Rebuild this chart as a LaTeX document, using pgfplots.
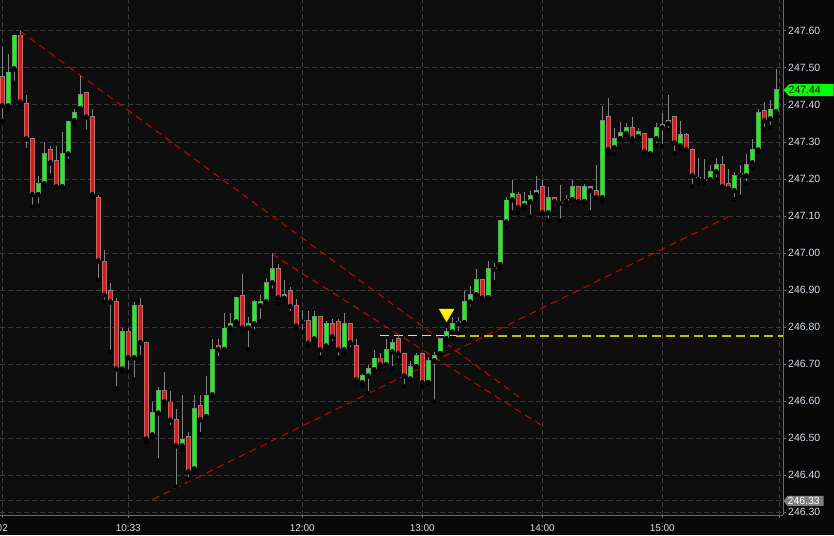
\documentclass[border=0pt]{standalone}
\usepackage{pgfplots}
\pgfplotsset{compat=1.18}
\usepackage{pgfplotstable}
\usepackage{fontspec}
\setmainfont{Liberation Sans}
\definecolor{outerbg}{RGB}{8,8,8}
\definecolor{plotbg}{RGB}{14,14,14}
\definecolor{gridc}{RGB}{58,58,58}
\definecolor{axisc}{RGB}{105,105,105}
\definecolor{labelc}{RGB}{210,216,228}
\definecolor{wickc}{RGB}{130,130,130}
\definecolor{upc}{RGB}{10,255,10}
\definecolor{dnc}{RGB}{255,10,10}
\definecolor{trendc}{RGB}{210,0,0}
\definecolor{ylw}{RGB}{240,240,0}
\definecolor{ylwdark}{RGB}{200,190,0}
\definecolor{lowc}{RGB}{120,120,120}
\definecolor{tagg}{RGB}{0,255,0}
\definecolor{taggray}{RGB}{125,125,125}

\pgfplotstableread{
i o h l c
0 247.476 247.558 247.357 247.400
1 247.399 247.538 247.389 247.488
2 247.499 247.589 247.459 247.588
3 247.588 247.600 247.399 247.410
4 247.402 247.427 247.278 247.310
5 247.307 247.312 247.125 247.159
6 247.159 247.208 247.128 247.186
7 247.188 247.297 247.188 247.267
8 247.278 247.290 247.209 247.245
9 247.248 247.290 247.180 247.180
10 247.180 247.328 247.180 247.267
11 247.269 247.357 247.249 247.353
12 247.359 247.389 247.349 247.378
13 247.391 247.479 247.391 247.426
14 247.432 247.432 247.328 247.369
15 247.367 247.389 247.151 247.159
16 247.148 247.156 246.927 246.980
17 246.977 247.007 246.868 246.888
18 246.897 246.918 246.733 246.869
19 246.867 246.878 246.634 246.688
20 246.688 246.796 246.679 246.786
21 246.786 246.796 246.679 246.718
22 246.718 246.867 246.658 246.856
23 246.856 246.878 246.718 246.759
24 246.756 246.756 246.488 246.499
25 246.510 246.597 246.499 246.567
26 246.569 246.637 246.439 246.626
27 246.626 246.678 246.599 246.599
28 246.596 246.626 246.529 246.550
29 246.548 246.578 246.368 246.480
30 246.480 246.615 246.468 246.496
31 246.502 246.515 246.388 246.410
32 246.418 246.615 246.405 246.578
33 246.586 246.615 246.510 246.551
34 246.559 246.667 246.559 246.613
35 246.618 246.767 246.610 246.737
36 246.748 246.767 246.715 246.740
37 246.740 246.837 246.740 246.796
38 246.799 246.837 246.788 246.807
39 246.815 246.878 246.807 246.878
40 246.883 246.942 246.788 246.799
41 246.799 246.826 246.740 246.807
42 246.810 246.872 246.788 246.867
43 246.859 246.886 246.815 246.867
44 246.869 246.932 246.869 246.918
45 246.921 246.999 246.898 246.956
46 246.956 246.969 246.864 246.880
47 246.879 246.927 246.868 246.886
48 246.897 246.907 246.837 246.857
49 246.856 246.875 246.799 246.804
50 246.817 246.846 246.787 246.817
51 246.816 246.843 246.749 246.758
52 246.769 246.843 246.756 246.826
53 246.826 246.826 246.717 246.740
54 246.750 246.817 246.740 246.807
55 246.807 246.821 246.756 246.775
56 246.813 246.821 246.717 246.740
57 246.740 246.837 246.729 246.807
58 246.807 246.807 246.740 246.759
59 246.748 246.767 246.650 246.659
60 246.651 246.672 246.641 246.667
61 246.669 246.697 246.621 246.686
62 246.686 246.738 246.679 246.715
63 246.715 246.729 246.686 246.699
64 246.699 246.767 246.699 246.737
65 246.734 246.767 246.688 246.756
66 246.767 246.778 246.711 246.729
67 246.726 246.726 246.639 246.669
68 246.661 246.709 246.659 246.691
69 246.694 246.729 246.694 246.721
70 246.726 246.729 246.639 246.651
71 246.651 246.720 246.651 246.707
72 246.710 246.732 246.598 246.721
73 246.729 246.767 246.729 246.767
74 246.770 246.796 246.756 246.786
75 246.788 246.826 246.770 246.807
76 246.810 246.827 246.783 246.815
77 246.813 246.896 246.813 246.867
78 246.869 246.910 246.850 246.886
79 246.888 246.956 246.888 246.926
80 246.926 246.926 246.869 246.880
81 246.880 246.978 246.880 246.956
82 246.958 246.973 246.920 246.958
83 246.970 247.086 246.958 247.086
84 247.085 247.151 247.069 247.142
85 247.145 247.197 247.109 247.161
86 247.156 247.165 247.109 247.124
87 247.129 247.164 247.118 247.137
88 247.140 247.168 247.098 247.153
89 247.159 247.207 247.151 247.167
90 247.178 247.197 247.107 247.110
91 247.110 247.178 247.087 247.148
92 247.148 247.148 247.124 247.140
93 247.136 247.183 247.087 247.136
94 247.143 247.156 247.129 247.143
95 247.145 247.197 247.145 247.178
96 247.178 247.178 247.140 247.140
97 247.140 247.186 247.140 247.178
98 247.170 247.178 247.109 247.178
99 247.167 247.238 247.151 247.151
100 247.151 247.397 247.139 247.356
101 247.367 247.419 247.269 247.280
102 247.286 247.337 247.269 247.307
103 247.310 247.353 247.310 247.324
104 247.324 247.351 247.319 247.337
105 247.337 247.367 247.299 247.310
106 247.315 247.337 247.315 247.326
107 247.321 247.321 247.264 247.275
108 247.269 247.307 247.269 247.307
109 247.310 247.351 247.291 247.337
110 247.340 247.378 247.289 247.345
111 247.351 247.426 247.332 247.356
112 247.367 247.367 247.269 247.299
113 247.291 247.356 247.280 247.318
114 247.318 247.324 247.280 247.280
115 247.278 247.283 247.180 247.210
116 247.202 247.256 247.188 247.202
117 247.196 247.253 247.188 247.196
118 247.199 247.237 247.199 247.218
119 247.221 247.256 247.199 247.237
120 247.237 247.261 247.180 247.180
121 247.186 247.226 247.175 247.175
122 247.170 247.218 247.145 247.207
123 247.213 247.237 247.151 247.213
124 247.210 247.267 247.188 247.237
125 247.245 247.307 247.229 247.278
126 247.280 247.388 247.275 247.378
127 247.383 247.407 247.334 247.359
128 247.364 247.414 247.340 247.388
129 247.383 247.497 247.372 247.440
}\candles

\begin{document}
\begin{tikzpicture}[x=1pt,y=1pt]
\fill[outerbg] (0,-20) rectangle (834,515);
\begin{axis}[
  at={(0pt,0pt)}, anchor=south west,
  scale only axis, width=783pt, height=515pt,
  xmin=-0.383, xmax=130.12, ymin=246.2919, ymax=247.6838,
  axis background/.style={fill=plotbg},
  axis x line*=bottom, axis y line*=right,
  axis line style={-, draw=axisc, line width=1pt},
  tick align=outside, major tick length=3pt,
  tick style={draw=axisc, line width=1pt},
  xtick={0,21,50,70,90,110},
  xticklabels={02,10:33,12:00,13:00,14:00,15:00},
  extra x ticks={129.5}, extra x tick labels={},
  ytick={246.3,246.4,246.5,246.6,246.7,246.8,246.9,247.0,247.1,247.2,247.3,247.4,247.5,247.6},
  yticklabels={246.30,246.40,246.50,246.60,246.70,246.80,246.90,247.00,247.10,247.20,247.30,247.40,247.50,247.60},
  extra y ticks={246.33}, extra y tick labels={},
  extra y tick style={grid style={draw=lowc, line width=1pt, dash pattern=on 3pt off 2pt}, major tick length=0pt},
  grid=major,
  major grid style={draw=gridc, line width=1pt, dash pattern=on 5pt off 3pt},
  scaled y ticks=false,
  yticklabel style={anchor=west, inner sep=0pt, xshift=2pt, text=labelc, font=\fontsize{10.5}{12}\selectfont},
  xticklabel style={anchor=north, inner sep=0pt, yshift=-5.9pt, text=labelc, font=\fontsize{10}{12}\selectfont},
]
% trend lines
\addplot[draw=trendc, line width=1pt, dash pattern=on 7pt off 5pt] coordinates {(2.95,247.600) (86.78,246.603)};
\addplot[draw=trendc, line width=1pt, dash pattern=on 7pt off 5pt] coordinates {(44.95,246.997) (89.78,246.535)};
\addplot[draw=trendc, line width=1pt, dash pattern=on 7pt off 5pt] coordinates {(25.05,246.334) (121.0,247.098)};
\addplot[color=ylw, line width=1.5pt, dash pattern=on 9pt off 5pt] coordinates {(62.95,246.777) (75.6,246.777)};
\addplot[color=ylwdark, line width=2pt, dash pattern=on 9pt off 5pt] coordinates {(75.6,246.777) (130.12,246.777)};
% wicks
\addplot[forget plot, only marks, mark=none,
  error bars/.cd, y dir=plus, y explicit, error mark=none,
  error bar style={draw=wickc, line width=1pt}]
  table[x=i, y=l, y error plus expr=\thisrow{h}-\thisrow{l}] {\candles};
% body outlines
\addplot[forget plot, only marks, mark=none,
  error bars/.cd, y dir=plus, y explicit, error mark=none,
  error bar style={draw=wickc, line width=4.5pt}]
  table[x=i, y expr={min(\thisrow{o},\thisrow{c})-0.0025}, y error plus expr={abs(\thisrow{c}-\thisrow{o})+0.005}] {\candles};
% up bodies
\addplot[forget plot, only marks, mark=none,
  restrict expr to domain={\thisrow{c}-\thisrow{o}}{0.0005:1},
  error bars/.cd, y dir=plus, y explicit, error mark=none,
  error bar style={draw=upc, line width=2.9pt}]
  table[x=i, y=o, y error plus expr=\thisrow{c}-\thisrow{o}] {\candles};
% down bodies
\addplot[forget plot, only marks, mark=none,
  restrict expr to domain={\thisrow{o}-\thisrow{c}}{0.0005:1},
  error bars/.cd, y dir=plus, y explicit, error mark=none,
  error bar style={draw=dnc, line width=2.9pt}]
  table[x=i, y=c, y error plus expr=\thisrow{o}-\thisrow{c}] {\candles};
% signal triangle
\addplot[only marks, mark=triangle*, mark size=8.5pt, mark options={rotate=180, fill=yellow, draw=yellow}] coordinates {(74.05,246.837)};
\coordinate (T1) at (axis cs:130.12,247.44);
\coordinate (T2) at (axis cs:130.12,246.33);
\end{axis}
\fill[outerbg] (784,-0.6) rectangle (834,-20);
\fill[tagg] ([xshift=0.5pt]T1) -- ++(6pt,6pt) -- ++(44pt,0) -- ++(0,-12pt) -- ++(-44pt,0) -- cycle;
\node[anchor=west, inner sep=0pt, text=black, font=\fontsize{10.5}{12}\selectfont] at ([xshift=5.5pt]T1) {247.44};
\fill[taggray] ([xshift=0.5pt]T2) -- ++(4pt,5pt) -- ++(36pt,0) -- ++(0,-10pt) -- ++(-36pt,0) -- cycle;
\node[anchor=west, inner sep=0pt, text=white, font=\fontsize{10.5}{12}\selectfont] at ([xshift=4.5pt]T2) {246.33};
\pgfresetboundingbox
\useasboundingbox (0,-20) rectangle (834,515);
\end{tikzpicture}
\end{document}
